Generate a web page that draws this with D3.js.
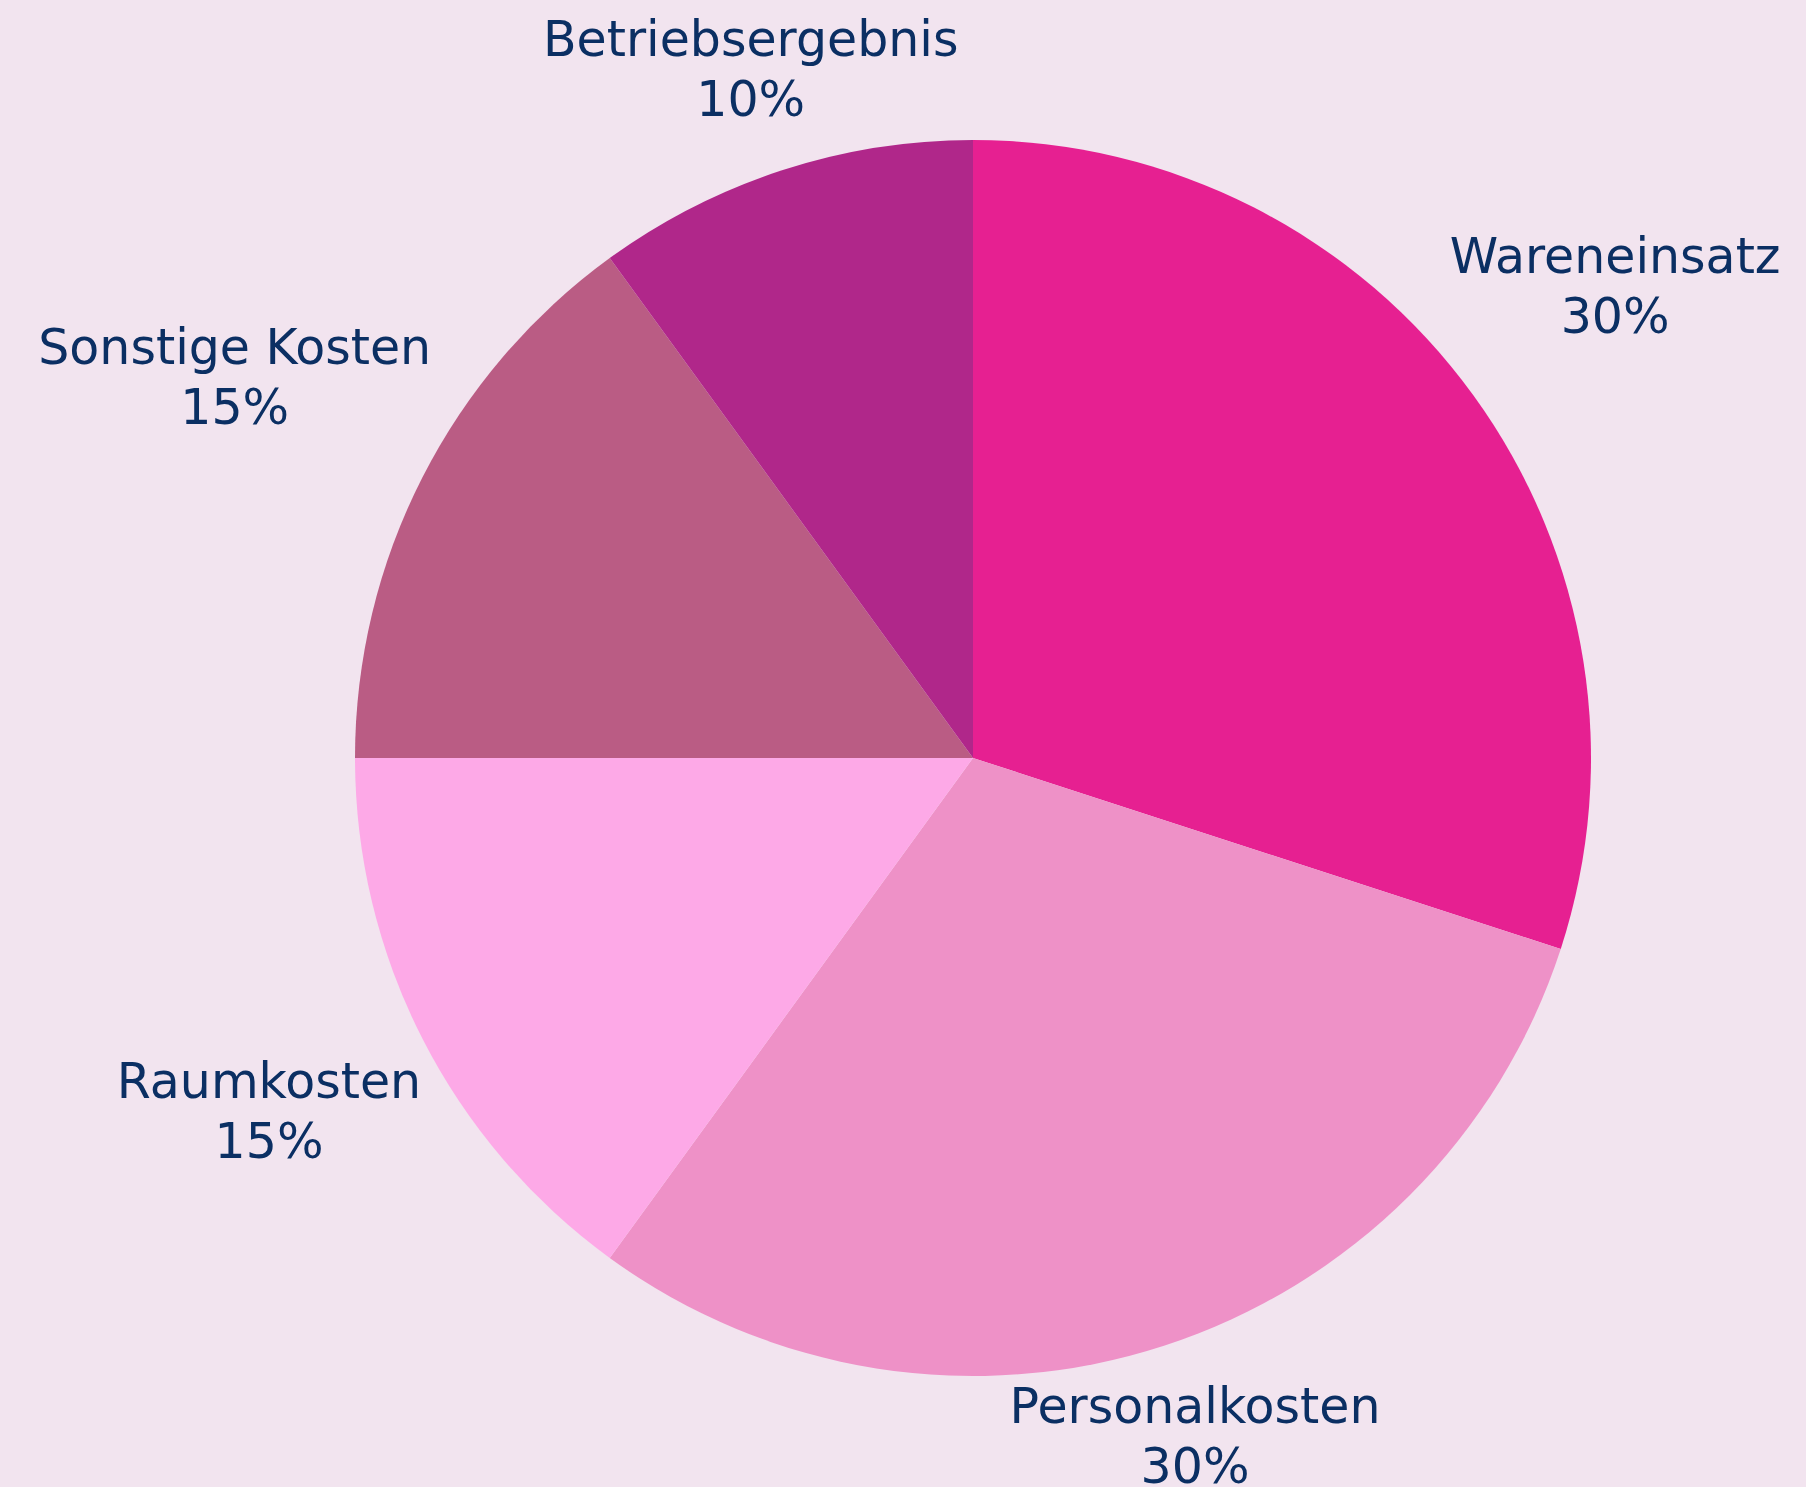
<!DOCTYPE html>
<html>
<head>
<meta charset="utf-8">
<script src="https://cdn.jsdelivr.net/npm/d3@7"></script>
<style>
  html, body { margin: 0; padding: 0; background: #f2e4ef; }
</style>
</head>
<body>
<svg id="chart"></svg>
<script>
const categories = ['Wareneinsatz', 'Personalkosten', 'Raumkosten', 'Sonstige Kosten', 'Betriebsergebnis'];
const shares = [30, 30, 15, 15, 10];
const colors = ['#e62091', '#ee91c7', '#fda9e7', '#ba5c84', '#b0278a'];

const svgWidth = 1806;
const svgHeight = 1487;
const cx = 973;
const cy = 758;
const radius = 618;

const data = categories.map((c, i) => ({ name: c, value: shares[i], color: colors[i] }));

const svg = d3.select('#chart')
    .attr('width', svgWidth)
    .attr('height', svgHeight)
    .style('background', '#f2e4ef');

const g = svg.append('g')
    .attr('transform', `translate(${cx}, ${cy})`);

const pie = d3.pie()
    .value(d => d.value)
    .sort(null);

const arc = d3.arc()
    .innerRadius(0)
    .outerRadius(radius);

const arcs = pie(data);

g.selectAll('path')
    .data(arcs)
    .enter()
    .append('path')
    .attr('d', arc)
    .attr('fill', d => d.data.color);

// outside labels, pushed out along the mid angle until the nearest corner clears the pie
const fontSize = 49;
const labelR = radius * 1.02;
const lineGap = 60;

const labels = g.selectAll('g.label')
    .data(arcs)
    .enter()
    .append('g')
    .attr('class', 'label');

const txt = labels.append('text')
    .attr('text-anchor', 'middle')
    .attr('font-family', '"DejaVu Sans", sans-serif')
    .attr('font-size', fontSize + 'px')
    .attr('fill', '#0b2f63');

txt.append('tspan')
    .attr('x', 0)
    .attr('y', 0)
    .text(d => d.data.name);

txt.append('tspan')
    .attr('x', 0)
    .attr('y', lineGap)
    .text(d => d.data.value + '%');

labels.each(function(d) {
    const bb = this.getBBox();
    // visual box: cap top of first line to a little below the second baseline
    const top = -0.73 * fontSize;
    const bottom = lineGap + 0.25 * fontSize;
    const w = bb.width, h = bottom - top;
    const a = (d.startAngle + d.endAngle) / 2;
    const ux = Math.sin(a), uy = -Math.cos(a);
    const sx = Math.sign(ux) * w / 2;
    const sy = Math.sign(uy) * h / 2;
    const us = ux * sx + uy * sy;
    const dist = us + Math.sqrt(us * us - (sx * sx + sy * sy) + labelR * labelR);
    const bx = bb.x + w / 2, by = (top + bottom) / 2;
    d3.select(this).attr('transform', `translate(${dist * ux - bx}, ${dist * uy - by})`);
});
</script>
</body>
</html>
